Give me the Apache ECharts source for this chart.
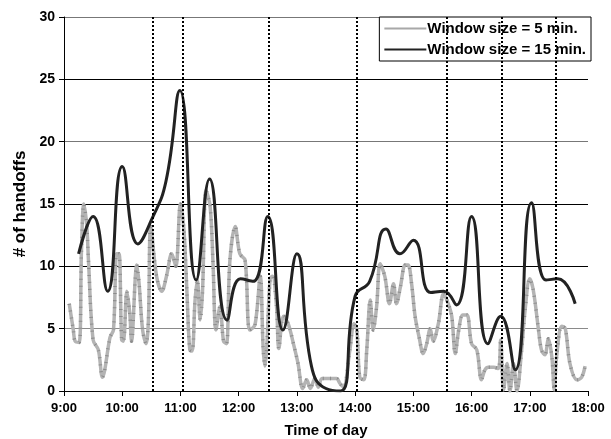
<!DOCTYPE html>
<html>
<head>
<meta charset="utf-8">
<script src="https://cdn.jsdelivr.net/npm/echarts@6/dist/echarts.min.js"></script>
<style>
  html, body { margin: 0; padding: 0; background: #fff; }
  #main { width: 611px; height: 439px; }
</style>
</head>
<body>
<div id="main"></div>
<script>
// time of day in decimal hours
var shortTimes = [9.09, 9.16, 9.19, 9.26, 9.30, 9.34, 9.39, 9.42, 9.50, 9.59, 9.66, 9.70, 9.79, 9.85, 9.905, 9.945,
    9.99, 10.02, 10.08, 10.13, 10.16, 10.25, 10.29, 10.35, 10.41, 10.45, 10.49, 10.59, 10.68, 10.76, 10.85, 10.92,
    11.00, 11.06, 11.11, 11.16, 11.20, 11.25, 11.29, 11.34, 11.38, 11.44, 11.51, 11.56, 11.61, 11.68, 11.74, 11.79,
    11.85, 11.94, 12.02, 12.11, 12.19, 12.28, 12.37, 12.42, 12.45, 12.48, 12.54, 12.58, 12.65, 12.69, 12.77, 12.85,
    12.94, 13.02, 13.10, 13.17, 13.23, 13.31, 13.37, 13.43, 13.54, 13.68, 13.74, 13.80, 13.91, 13.98, 14.03, 14.08,
    14.15, 14.20, 14.26, 14.31, 14.37, 14.43, 14.51, 14.59, 14.66, 14.71, 14.78, 14.86, 14.91, 14.97, 15.03, 15.10,
    15.17, 15.23, 15.29, 15.34, 15.43, 15.52, 15.60, 15.66, 15.72, 15.78, 15.85, 15.92, 16.00, 16.09, 16.17, 16.23,
    16.29, 16.38, 16.46, 16.50, 16.55, 16.61, 16.66, 16.72, 16.78, 16.86, 16.92, 17.00, 17.06, 17.15, 17.20, 17.26,
    17.32, 17.38, 17.42, 17.46, 17.55, 17.61, 17.69, 17.81, 17.89, 17.95];
var shortCounts = [7.0, 4.9, 4.0, 3.9, 11.3, 15.0, 13.3, 10.5, 4.1, 3.3, 1.1, 1.7, 4.3, 4.9, 11.0, 11.0,
    4.1, 4.0, 8.0, 6.2, 4.0, 10.1, 8.6, 4.9, 3.8, 5.7, 13.2, 9.2, 8.0, 9.2, 11.0, 10.0,
    15.0, 12.9, 8.1, 3.3, 3.2, 7.2, 8.9, 5.7, 8.1, 16.1, 14.8, 10.2, 4.9, 6.8, 4.0, 3.8,
    10.5, 13.2, 11.0, 10.5, 4.9, 5.3, 9.2, 3.5, 2.0, 3.3, 9.0, 9.2, 6.8, 3.4, 6.0, 5.4,
    3.8, 2.2, 0.2, 0.9, 0.2, 1.0, 0.3, 1.0, 1.0, 1.0, 0.6, 0.3, 3.3, 5.4, 4.9, 1.1,
    0.9, 3.3, 7.3, 4.9, 6.8, 10.2, 9.2, 7.0, 8.6, 7.0, 8.4, 10.1, 10.1, 8.6, 6.0, 4.3,
    3.0, 3.8, 5.0, 4.0, 5.4, 7.8, 7.0, 6.0, 3.0, 4.9, 6.1, 6.1, 3.8, 3.3, 0.9, 1.7,
    1.9, 1.9, 1.8, 4.1, 0.1, 2.2, 0.0, 2.2, 0.0, 3.3, 6.5, 9.0, 8.1, 4.9, 3.3, 2.9,
    4.2, 2.7, 0.1, 2.7, 5.2, 5.0, 2.2, 0.9, 1.1, 2.0];

var longTimes = [9.25, 9.5, 9.75, 10.0, 10.27, 10.5, 10.75, 10.99, 11.27, 11.5, 11.8, 12.03, 12.25, 12.5, 12.76,
    13.0, 13.25, 13.5, 13.75, 14.0, 14.25, 14.53, 14.77, 15.0, 15.3, 15.52, 15.74, 16.0, 16.28, 16.5, 16.75,
    17.03, 17.28, 17.48, 17.78];
var longCounts = [11, 14, 8, 18, 11.8, 13.7, 16.8, 24.1, 8.9, 17, 5.7, 9, 8.8, 14, 4.9,
    11, 2, 0.2, 0, 7.6, 8.8, 13, 11, 12.1, 7.9, 8, 6.9, 14, 3.8, 6, 1.7,
    15.1, 8.9, 9, 7];

var markerTimes = [10.53, 11.04, 12.52, 14.03, 15.57, 16.52, 17.45];
var hourTicks = [9, 10, 11, 12, 13, 14, 15, 16, 17, 18];

function pairs(xs, ys) {
    return xs.map(function (x, i) { return [x, ys[i]]; });
}

var chart = echarts.init(document.getElementById('main'), null, { renderer: 'canvas' });
var font = 'Liberation Sans';

var option = {
    animation: false,
    backgroundColor: '#fff',
    textStyle: { fontFamily: font },
    grid: { left: 64, right: 23, top: 17, bottom: 48, containLabel: false, outerBoundsMode: 'none' },
    legend: {
        right: 20,
        top: 17,
        orient: 'vertical',
        backgroundColor: '#fff',
        borderColor: '#000',
        borderWidth: 1,
        padding: [4, 5, 4, 5],
        itemGap: 6,
        itemWidth: 42,
        itemHeight: 12,
        textStyle: { fontFamily: font, fontSize: 15, fontWeight: 'bold', color: '#000', padding: [0, 0, 0, -4] },
        data: [
            { name: 'Window size = 5 min.', icon: 'path://M0,5 L42,5 L42,7 L0,7 Z',
              itemStyle: { color: '#a8a8a8' } },
            { name: 'Window size = 15 min.', icon: 'path://M0,5 L42,5 L42,7 L0,7 Z',
              itemStyle: { color: '#222' } }
        ]
    },
    xAxis: {
        type: 'value',
        min: 9,
        max: 18,
        interval: 1,
        name: 'Time of day',
        nameLocation: 'middle',
        nameGap: 32,
        nameTextStyle: { fontFamily: font, fontSize: 15, fontWeight: 'bold', color: '#000' },
        axisLine: { show: true, lineStyle: { color: '#000', width: 1 } },
        axisTick: { show: true, length: 5, lineStyle: { color: '#000' } },
        axisLabel: {
            fontFamily: font, fontSize: 13, fontWeight: 'bold', color: '#000', margin: 11,
            formatter: function (v) { return hourTicks.indexOf(v) >= 0 ? v + ':00' : ''; }
        },
        splitLine: { show: false }
    },
    yAxis: {
        type: 'value',
        min: 0,
        max: 30,
        interval: 5,
        name: '# of handoffs',
        nameLocation: 'middle',
        nameGap: 35,
        nameTextStyle: { fontFamily: font, fontSize: 17, fontWeight: 'bold', color: '#000' },
        axisLine: { show: true, lineStyle: { color: '#000', width: 1 } },
        axisTick: { show: true, length: 5, lineStyle: { color: '#000' } },
        axisLabel: { fontFamily: font, fontSize: 14, fontWeight: 'bold', color: '#000', margin: 9 },
        splitLine: {
            show: true,
            lineStyle: { color: ['#000', '#8a8a8a', '#000', '#000', '#777', '#000', '#777'], width: 1 }
        }
    },
    series: [
        {
            name: 'Window size = 5 min.',
            type: 'line',
            data: pairs(shortTimes, shortCounts),
            smooth: 0.35,
            showSymbol: false,
            symbol: 'none',
            lineStyle: { color: '#b4b4b4', width: 3.5 },
            itemStyle: { color: '#a8a8a8' },
            z: 3
        },
        {
            name: 'texture',
            type: 'line',
            data: pairs(shortTimes, shortCounts),
            smooth: 0.35,
            symbol: 'none',
            silent: true,
            lineStyle: { color: '#8c8c8c', width: 3.5, type: [1, 6] },
            z: 3
        },
        {
            name: 'Window size = 15 min.',
            type: 'line',
            data: pairs(longTimes, longCounts),
            smooth: 0.5,
            symbol: 'none',
            lineStyle: { color: '#222', width: 3 },
            itemStyle: { color: '#222' },
            z: 4,
            markLine: {
                silent: true,
                symbol: 'none',
                label: { show: false },
                lineStyle: { color: '#000', width: 2, type: [2, 2] },
                data: markerTimes.map(function (t) { return { xAxis: t }; })
            }
        }
    ]
};

chart.setOption(option);
</script>
</body>
</html>
